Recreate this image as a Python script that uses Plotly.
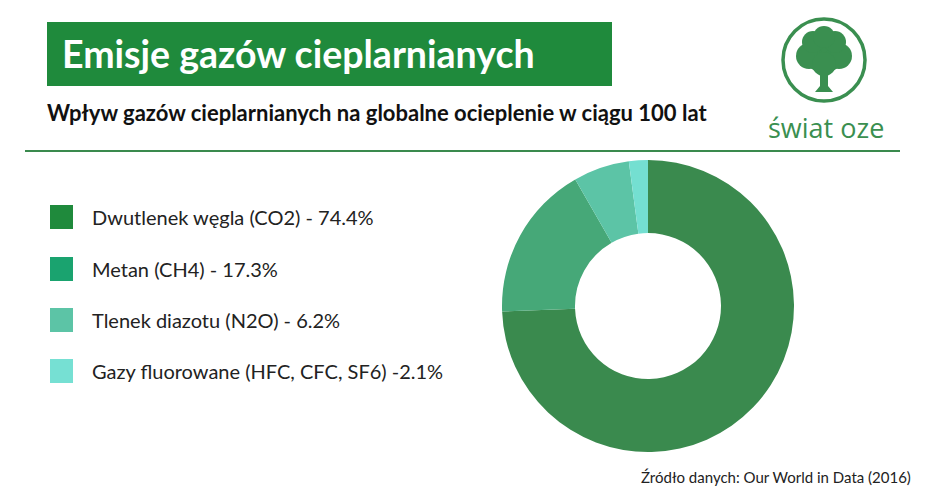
import plotly.graph_objects as go

W, H = 940, 501

# ---- data ----
gases = ["Dwutlenek węgla (CO2)", "Metan (CH4)", "Tlenek diazotu (N2O)", "Gazy fluorowane (HFC, CFC, SF6)"]
shares = [74.4, 17.3, 6.2, 2.1]
legend_labels = ["Dwutlenek węgla (CO2) - 74.4%", "Metan (CH4) - 17.3%",
                 "Tlenek diazotu (N2O) - 6.2%", "Gazy fluorowane (HFC, CFC, SF6) -2.1%"]
slice_colors = ["#3a8a4e", "#46a878", "#5cc4a6", "#74dfd1"]
legend_colors = ["#1f8a3c", "#1aa36f", "#5cc4a6", "#76e0d3"]

title = "Emisje gazów cieplarnianych"
subtitle = "Wpływ gazów cieplarnianych na globalne ocieplenie w ciągu 100 lat"
source = "Źródło danych: Our World in Data (2016)"
brand = "świat oze"


def px(x):
    return x / W


def py(y):
    return 1 - y / H


fig = go.Figure()

cx, cy, R = 648, 306, 146
fig.add_trace(go.Pie(
    labels=gases, values=shares, hole=0.5, sort=False, direction="clockwise",
    rotation=0, marker=dict(colors=slice_colors, line=dict(width=0)),
    textinfo="none", showlegend=False, hoverinfo="label+percent",
    domain=dict(x=[px(cx - R), px(cx + R)], y=[py(cy + R), py(cy - R)]),
))

shapes = []
annotations = []

# title box
shapes.append(dict(type="rect", xref="paper", yref="paper",
                   x0=px(47), x1=px(612), y0=py(86), y1=py(22),
                   fillcolor="#1f8a3c", line=dict(width=0), layer="below"))
annotations.append(dict(text="<b>" + title + "</b>", x=px(60), y=py(54), xref="paper", yref="paper",
                        xanchor="left", yanchor="middle", showarrow=False,
                        font=dict(family="Lato", size=37.5, color="white")))
annotations.append(dict(text="<b>" + subtitle + "</b>", x=px(45), y=py(112), xref="paper", yref="paper",
                        xanchor="left", yanchor="middle", showarrow=False,
                        font=dict(family="Lato", size=22, color="#111111")))

# separator line
shapes.append(dict(type="line", xref="paper", yref="paper",
                   x0=px(25), x1=px(900), y0=py(151), y1=py(151),
                   line=dict(color="#3a8a4e", width=2)))

# legend
ys = [217, 269, 320, 371]
for lab, col, yc in zip(legend_labels, legend_colors, ys):
    shapes.append(dict(type="rect", xref="paper", yref="paper",
                       x0=px(50), x1=px(73), y0=py(yc + 12), y1=py(yc - 12),
                       fillcolor=col, line=dict(width=0)))
    annotations.append(dict(text=lab, x=px(90), y=py(yc), xref="paper", yref="paper",
                            xanchor="left", yanchor="middle", showarrow=False,
                            font=dict(family="Lato", size=20, color="#222222")))

# source
annotations.append(dict(text=source, x=px(913), y=py(477), xref="paper", yref="paper",
                        xanchor="right", yanchor="middle", showarrow=False,
                        font=dict(family="Lato", size=15, color="#222222")))

# logo: ring
lx, ly, lr = 824, 60, 41
shapes.append(dict(type="circle", xref="paper", yref="paper",
                   x0=px(lx - lr), x1=px(lx + lr), y0=py(ly + lr), y1=py(ly - lr),
                   line=dict(color="#3a8f50", width=3.5)))
# tree canopy (blobs)
blobs = [(824, 52, 21), (809, 56, 13), (839, 56, 13), (813, 42, 11), (835, 42, 11), (824, 37, 11), (824, 64, 12)]
for bx, by, br in blobs:
    shapes.append(dict(type="circle", xref="paper", yref="paper",
                       x0=px(bx - br), x1=px(bx + br), y0=py(by + br), y1=py(by - br),
                       fillcolor="#3a8f50", line=dict(width=0)))
# trunk
trunk = [(820, 66), (828, 66), (828, 86), (833, 92), (815, 92), (820, 86)]
path = "M " + " L ".join(f"{px(x)},{py(y)}" for x, y in trunk) + " Z"
shapes.append(dict(type="path", xref="paper", yref="paper", path=path,
                   fillcolor="#3a8f50", line=dict(width=0)))
annotations.append(dict(text=brand, x=px(826), y=py(127), xref="paper", yref="paper",
                        xanchor="center", yanchor="middle", showarrow=False,
                        font=dict(family="Open Sans", size=27, color="#3a8f50")))

fig.update_layout(
    width=W, height=H, margin=dict(l=0, r=0, t=0, b=0),
    paper_bgcolor="white", plot_bgcolor="white",
    shapes=shapes, annotations=annotations, showlegend=False,
)

fig.write_html("out.html")
